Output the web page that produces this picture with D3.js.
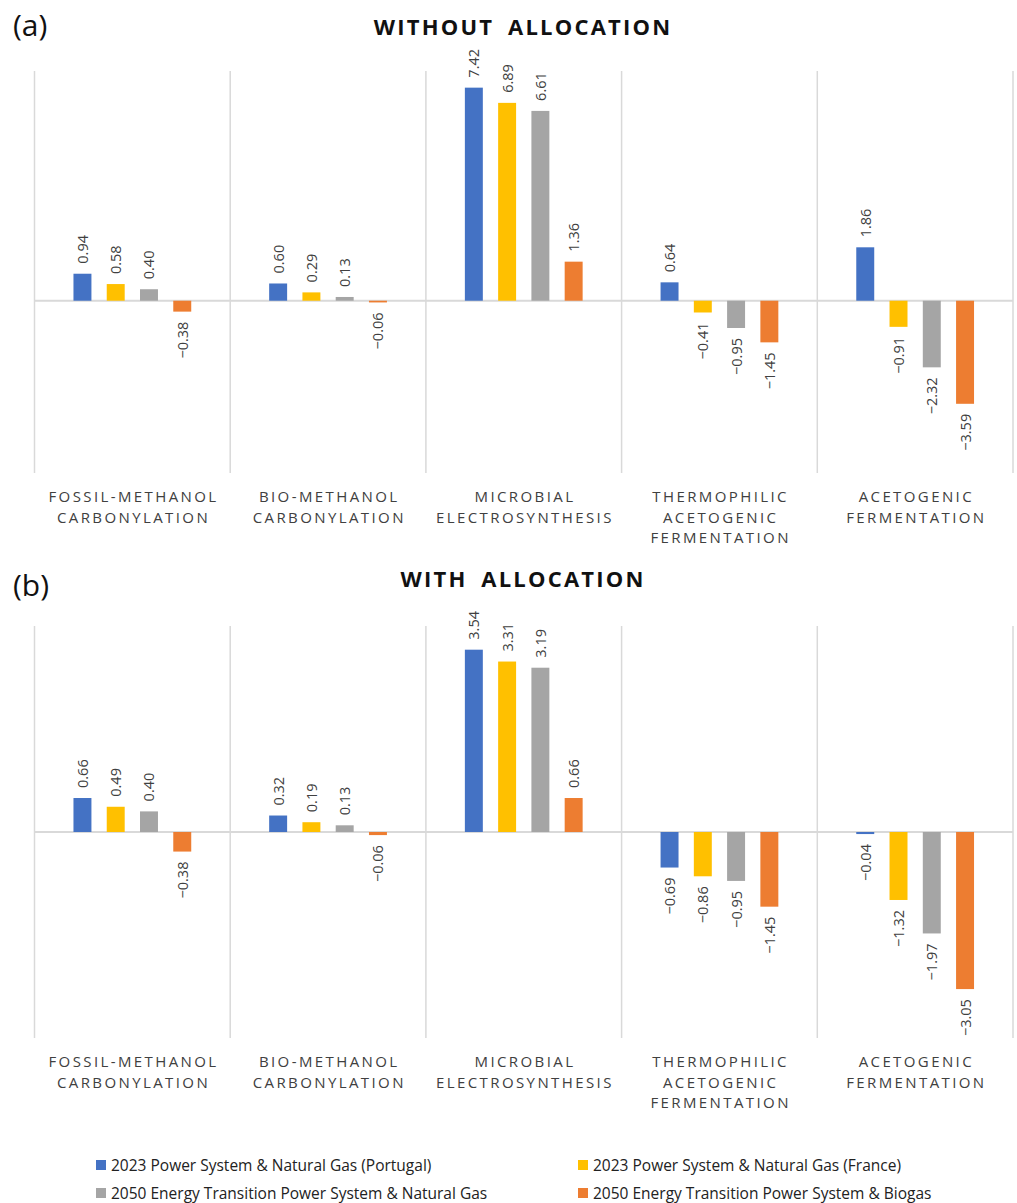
<!DOCTYPE html>
<html>
<head>
<meta charset="utf-8">
<script src="https://cdn.jsdelivr.net/npm/d3@7"></script>
<style>
  html, body { margin: 0; padding: 0; background: #fff; }
  svg { display: block; }
  text { font-family: "Open Sans", "DejaVu Sans", sans-serif; }
</style>
</head>
<body>
<svg id="chart" width="1017" height="1203"></svg>
<script>
// Process categories (each label split into lines)
const categories = [
  ["FOSSIL-METHANOL", "CARBONYLATION"],
  ["BIO-METHANOL", "CARBONYLATION"],
  ["MICROBIAL", "ELECTROSYNTHESIS"],
  ["THERMOPHILIC", "ACETOGENIC", "FERMENTATION"],
  ["ACETOGENIC", "FERMENTATION"]
];

// Scenario names
const scenarios = [
  "2023 Power System & Natural Gas (Portugal)",
  "2023 Power System & Natural Gas (France)",
  "2050 Energy Transition Power System & Natural Gas",
  "2050 Energy Transition Power System & Biogas"
];
const scenarioColors = ["#4472C4", "#FFC000", "#A5A5A5", "#ED7D31"];

// (a) Without allocation: one array per scenario, ordered like categories
const noAllocPortugal = [0.94, 0.60, 7.42, 0.64, 1.86];
const noAllocFrance   = [0.58, 0.29, 6.89, -0.41, -0.91];
const noAllocNatGas   = [0.40, 0.13, 6.61, -0.95, -2.32];
const noAllocBiogas   = [-0.38, -0.06, 1.36, -1.45, -3.59];

// (b) With allocation
const allocPortugal = [0.66, 0.32, 3.54, -0.69, -0.04];
const allocFrance   = [0.49, 0.19, 3.31, -0.86, -1.32];
const allocNatGas   = [0.40, 0.13, 3.19, -0.95, -1.97];
const allocBiogas   = [-0.38, -0.06, 0.66, -1.45, -3.05];

// Value-axis extents for each panel
const yDomainA = [-6, 8];
const yDomainB = [-4, 4];

const svg = d3.select("#chart");
const gridColor = "#d9d9d9";
const textColor = "#404040";
const fmt = v => (v < 0 ? "\u2212" : "") + d3.format(".2f")(Math.abs(v));

const x0 = d3.scaleBand().domain(d3.range(categories.length)).range([34.5, 1013]).padding(0);
const catW = x0.bandwidth();
const x1 = d3.scaleBand().domain(d3.range(scenarios.length))
  .range([catW * 0.16, catW * 0.84]).paddingInner(0.46).paddingOuter(0.23);

function drawPanel(cfg) {
  const g = svg.append("g");
  const y = d3.scaleLinear().domain(cfg.domain).range([cfg.bottom, cfg.top]);

  // panel tag and title
  g.append("text").attr("x", 13).attr("y", cfg.tagY)
    .attr("font-size", 30).attr("fill", "#111").text(cfg.tag);
  g.append("text").attr("x", 523).attr("y", cfg.titleY)
    .attr("text-anchor", "middle").attr("font-size", 22).attr("font-weight", 700)
    .attr("letter-spacing", 2.2).attr("word-spacing", 6).attr("fill", "#111")
    .text(cfg.title);

  // category separators
  const edges = x0.domain().map(i => x0(i)).concat([x0.range()[1]]);
  g.selectAll("line.sep").data(edges).join("line")
    .attr("x1", d => d).attr("x2", d => d)
    .attr("y1", y.range()[1]).attr("y2", y.range()[0])
    .attr("stroke", gridColor).attr("stroke-width", 1.5);

  // zero line
  g.append("line").attr("x1", x0.range()[0]).attr("x2", x0.range()[1])
    .attr("y1", y(0)).attr("y2", y(0))
    .attr("stroke", gridColor).attr("stroke-width", 2);

  const rows = [];
  cfg.series.forEach((vals, s) => vals.forEach((v, c) => rows.push({ s, c, v })));

  const bars = g.selectAll("g.bar").data(rows).join("g")
    .attr("transform", d => `translate(${x0(d.c) + x1(d.s)},0)`);
  bars.append("rect")
    .attr("x", 0).attr("width", x1.bandwidth())
    .attr("y", d => Math.min(y(d.v), y(0)))
    .attr("height", d => Math.abs(y(d.v) - y(0)))
    .attr("fill", d => scenarioColors[d.s]);

  bars.append("text")
    .attr("transform", d => {
      const cx = x1.bandwidth() / 2;
      const cy = d.v >= 0 ? y(d.v) - 10 : y(d.v) + 10;
      return `translate(${cx},${cy}) rotate(-90)`;
    })
    .attr("text-anchor", d => d.v >= 0 ? "start" : "end")
    .attr("dominant-baseline", "central")
    .attr("font-size", 14.5).attr("fill", textColor)
    .text(d => fmt(d.v));

  // category labels
  const lab = g.selectAll("text.cat").data(categories).join("text")
    .attr("text-anchor", "middle").attr("font-size", 15)
    .attr("letter-spacing", 2.4).attr("fill", textColor);
  lab.selectAll("tspan").data((d, i) => d.map(t => ({ t, i }))).join("tspan")
    .attr("x", d => x0(d.i) + catW / 2 + 1.2)
    .attr("y", (d, k) => cfg.bottom + 29 + k * 20.5)
    .text(d => d.t);
}

drawPanel({
  tag: "(a)", tagY: 36, title: "WITHOUT ALLOCATION", titleY: 35,
  domain: yDomainA, top: 71, bottom: 473,
  series: [noAllocPortugal, noAllocFrance, noAllocNatGas, noAllocBiogas]
});
drawPanel({
  tag: "(b)", tagY: 596, title: "WITH ALLOCATION", titleY: 587,
  domain: yDomainB, top: 626, bottom: 1038,
  series: [allocPortugal, allocFrance, allocNatGas, allocBiogas]
});

// legend
const legendPos = [[96, 1165], [578, 1165], [96, 1193], [578, 1193]];
const leg = svg.selectAll("g.legend").data(scenarios).join("g")
  .attr("transform", (d, i) => `translate(${legendPos[i][0]},${legendPos[i][1]})`);
leg.append("rect").attr("x", 0).attr("y", -5).attr("width", 10).attr("height", 10)
  .attr("fill", (d, i) => scenarioColors[i]);
leg.append("text").attr("x", 15).attr("y", 0).attr("dominant-baseline", "central")
  .attr("font-size", 15.5).attr("fill", "#222").text(d => d);
</script>
</body>
</html>
